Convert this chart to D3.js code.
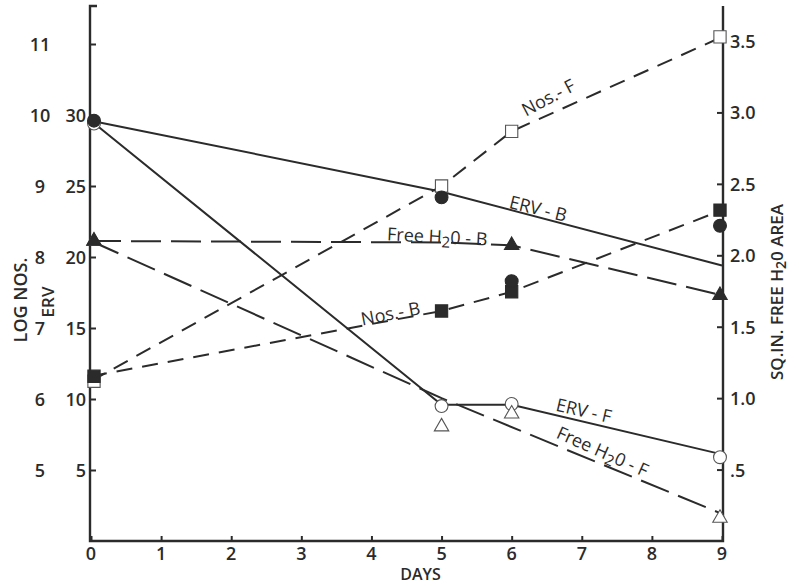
<!DOCTYPE html>
<html>
<head>
<meta charset="utf-8">
<script src="https://cdn.jsdelivr.net/npm/d3@7"></script>
<style>
  body { margin: 0; background: #fff; }
  text { font-family: "Open Sans", "DejaVu Sans", sans-serif; fill: #2b2b2b; }
</style>
</head>
<body>
<div id="grafico"></div>
<script>
// dias de muestreo
const dias = [0, 5, 6, 9];
const diasTicks = [0, 1, 2, 3, 4, 5, 6, 7, 8, 9];

// ERV (eje izquierdo interior)
const ervB = [29.6, 24.2, 18.3, 22.2];
const ervF = [29.4, 9.5, 9.65, 5.9];
const ervBLinea = [[0, 29.6], [5, 24.6], [9, 19.4]];
const ervFLinea = [[0, 29.6], [5, 9.6], [6, 9.6], [9, 6.1]];

// LOG NOS. (eje izquierdo exterior)
const nosB = [6.32, 7.24, 7.51, 8.66];
const nosF = [6.25, 9.0, 9.77, 11.1];

// SQ.IN. FREE H2O AREA (eje derecho)
const aguaB = [[0, 2.1], [6, 2.07], [9, 1.72]];
const aguaF = [[0, 2.1], [5, 0.8], [6, 0.89], [9, 0.16]];
const aguaBLinea = [[0, 2.1], [5, 2.09], [6, 2.07], [9, 1.72]];
const aguaFLinea = [[0, 2.1], [5, 1.0], [9, 0.19]];

const ticksLog = [5, 6, 7, 8, 9, 10, 11];
const ticksErv = [5, 10, 15, 20, 25, 30];
const ticksArea = [0.5, 1.0, 1.5, 2.0, 2.5, 3.0, 3.5];
const etiquetasArea = [".5", "1.0", "1.5", "2.0", "2.5", "3.0", "3.5"];

// etiquetas de curvas: [dia, valor ERV, angulo, texto antes, subindice, texto despues]
const etiquetas = [
  [6.52, 31.27, -28, "Nos.- F", null, ""],
  [6.38, 23.45, 14, "ERV - B", null, ""],
  [4.94, 21.48, 3, "Free H", "2", "0 - B"],
  [4.27, 16.06, -11, "Nos.- B", null, ""],
  [7.03, 9.23, 13, "ERV - F", null, ""],
  [7.3, 6.34, 24, "Free H", "2", "0 - F"]
];

const ancho = 799, alto = 586;
const x0 = 91, x1 = 722, yBase = 541, yTope = 6;
const tinta = "#2b2b2b";

const x = d3.scaleLinear().domain([0, 9]).range([x0, x1]);
const yErv = d3.scaleLinear().domain([0, 35]).range([yBase, 44]);
const yLog = d3.scaleLinear().domain([4, 11]).range([yBase, 44]);
const yArea = d3.scaleLinear().domain([0, 3.5]).range([yBase, 41]);

const svg = d3.select("#grafico").append("svg")
  .attr("width", ancho).attr("height", alto);

// marco: ejes
const ejeIzq = svg.append("g").attr("transform", `translate(${x0 - 1},0)`)
  .call(d3.axisRight(yErv).tickValues([5, 10, 15, 20, 25, 30, 35]).tickSize(6).tickFormat(""));
const ejeDer = svg.append("g").attr("transform", `translate(${x1 + 1},0)`)
  .call(d3.axisLeft(yArea).tickValues(ticksArea).tickSize(6).tickFormat(""));
const ejeX = svg.append("g").attr("transform", `translate(0,${yBase})`)
  .call(d3.axisTop(x).tickValues(diasTicks).tickSize(5).tickFormat(""));
[ejeIzq, ejeDer, ejeX].forEach(g => {
  g.select(".domain").remove();
  g.selectAll("line").attr("stroke", tinta).attr("stroke-width", 2);
});
svg.append("path")
  .attr("d", `M${x0 + 6},${yTope} H${x0 - 1} V${yBase} H${x1 + 1} V${yTope}`)
  .attr("fill", "none").attr("stroke", tinta).attr("stroke-width", 2.4);

// textos de ejes
const estiloTick = sel => sel.attr("dominant-baseline", "central")
  .attr("font-size", 18).attr("font-weight", 600);
svg.append("g").selectAll("text").data(ticksLog).join("text")
  .attr("x", 40).attr("y", d => yLog(d)).attr("text-anchor", "middle")
  .call(estiloTick).text(d => d);
svg.append("g").selectAll("text").data(ticksErv).join("text")
  .attr("x", x0 - 5).attr("y", d => yErv(d)).attr("text-anchor", "end")
  .call(estiloTick).text(d => d);
svg.append("g").selectAll("text").data(ticksArea).join("text")
  .attr("x", x1 + 8).attr("y", d => yArea(d)).attr("text-anchor", "start")
  .call(estiloTick).text((d, i) => etiquetasArea[i]);
svg.append("g").selectAll("text").data(diasTicks).join("text")
  .attr("x", d => x(d)).attr("y", 553).attr("text-anchor", "middle")
  .call(estiloTick).text(d => d);
svg.append("text").attr("x", x(4.7)).attr("y", 574).attr("text-anchor", "middle")
  .attr("dominant-baseline", "central").attr("font-size", 16).attr("font-weight", 600)
  .text("DAYS");

svg.append("text").attr("transform", "translate(20,300) rotate(-90)")
  .attr("text-anchor", "middle").attr("dominant-baseline", "central")
  .attr("font-size", 18).attr("font-weight", 600).text("LOG NOS.");
svg.append("text").attr("transform", "translate(47,302) rotate(-90)")
  .attr("text-anchor", "middle").attr("dominant-baseline", "central")
  .attr("font-size", 17).attr("font-weight", 600).text("ERV");
const tituloDer = svg.append("text").attr("transform", "translate(776,292) rotate(-90)")
  .attr("text-anchor", "middle").attr("dominant-baseline", "central")
  .attr("font-size", 17).attr("font-weight", 600);
tituloDer.append("tspan").text("SQ.IN. FREE H");
tituloDer.append("tspan").attr("baseline-shift", "-35%").attr("font-size", 14).text("2");
tituloDer.append("tspan").text("0 AREA");

// lineas
const linea = escala => d3.line().x(d => x(d[0])).y(d => escala(d[1]));
const trazar = (datos, escala, guiones) => svg.append("path")
  .datum(datos).attr("d", linea(escala))
  .attr("fill", "none").attr("stroke", tinta).attr("stroke-width", 2)
  .attr("stroke-dasharray", guiones);

trazar(ervBLinea, yErv, null);
trazar(ervFLinea, yErv, null);
trazar(dias.map((d, i) => [d, nosF[i]]), yLog, "16,10");
trazar(dias.map((d, i) => [d, nosB[i]]), yLog, "16,10");
trazar(aguaBLinea, yArea, "30,10");
trazar(aguaFLinea, yArea, "30,10");

// marcadores
const simbolo = (datos, escala, tipo, tam, relleno) => svg.append("g")
  .selectAll("path").data(datos).join("path")
  .attr("transform", d => `translate(${x(d[0]) + (d[0] === 0 ? 3 : d[0] === 9 ? -2 : 0)},${escala(d[1])})`)
  .attr("d", d3.symbol().type(tipo).size(tam))
  .attr("fill", relleno ? tinta : "#fff")
  .attr("stroke", relleno ? tinta : "#555").attr("stroke-width", 1.1);

simbolo(dias.map((d, i) => [d, nosF[i]]), yLog, d3.symbolSquare, 150, false);
simbolo(dias.map((d, i) => [d, nosB[i]]), yLog, d3.symbolSquare, 150, true);
simbolo(dias.map((d, i) => [d, ervF[i]]), yErv, d3.symbolCircle, 130, false);
simbolo(dias.map((d, i) => [d, ervB[i]]), yErv, d3.symbolCircle, 130, true);
simbolo(aguaF, yArea, d3.symbolTriangle, 90, false);
simbolo(aguaB, yArea, d3.symbolTriangle, 90, true);

// etiquetas de curvas
etiquetas.forEach(e => {
  const t = svg.append("text")
    .attr("transform", `translate(${x(e[0])},${yErv(e[1])}) rotate(${e[2]})`)
    .attr("text-anchor", "middle").attr("dominant-baseline", "central")
    .attr("font-size", 18).attr("font-weight", 500);
  t.append("tspan").text(e[3]);
  if (e[4]) {
    t.append("tspan").attr("baseline-shift", "-35%").attr("font-size", 15).text(e[4]);
    t.append("tspan").text(e[5]);
  }
});
</script>
</body>
</html>
